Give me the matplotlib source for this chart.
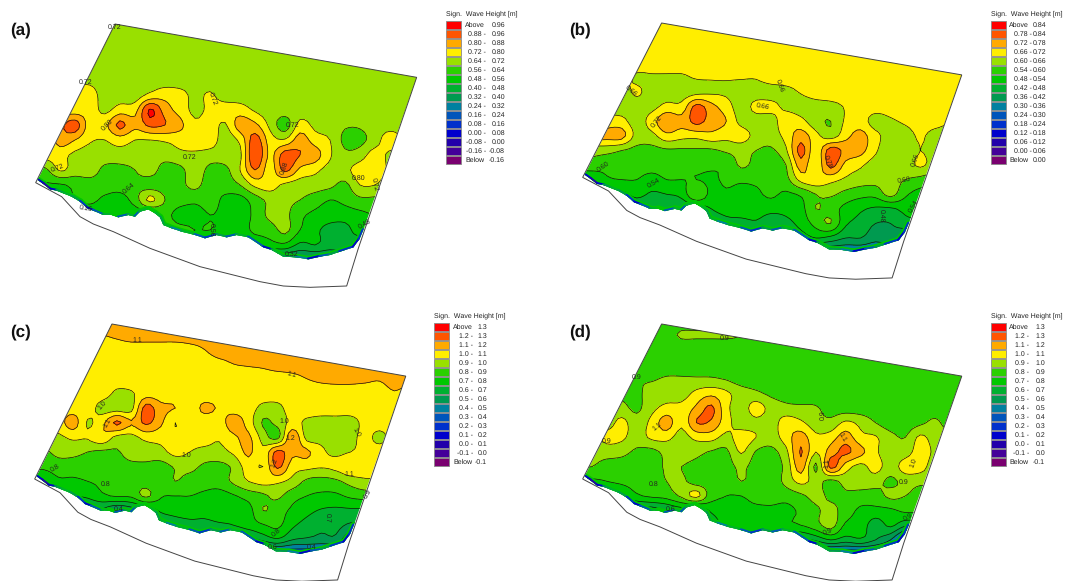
import numpy as np
import matplotlib
matplotlib.use("Agg")
import matplotlib.pyplot as plt
from matplotlib.patches import Polygon, Rectangle
from matplotlib.collections import LineCollection

plt.rcParams['font.family'] = ['Liberation Sans', 'DejaVu Sans']
plt.rcParams['text.hinting'] = 'no_hinting'
plt.rcParams['text.hinting_factor'] = 1

R68 = [.68]*27
wave_a = [R68, R68, R68, R68,
 [.68,.68,.68,.70,.70,.68,.68,.68,.68, .68,.68,.68,.68,.68,.68,.68,.68,.68, .68,.68,.68,.68,.68,.68,.68,.68,.68],
 [.76,.76,.76,.76,.76,.68,.68,.68,.74, .77,.75,.70,.73,.68,.68,.68,.68,.68, .68,.68,.68,.68,.68,.68,.68,.68,.68],
 [.76,.76,.76,.76,.76,.70,.76,.77,.97, .84,.77,.70,.74,.76,.76,.71,.68,.68, .68,.68,.68,.68,.68,.68,.68,.68,.68],
 [.86,.86,.86,.92,.76,.78,.90,.82,.90, .88,.82,.74,.76,.71,.84,.82,.70,.60, .75,.70,.68,.65,.65,.68,.68,.68,.68],
 [.70,.70,.84,.80,.73,.72,.76,.72,.72, .73,.75,.78,.77,.68,.74,.92,.76,.73, .84,.76,.72,.62,.62,.68,.77,.70,.68],
 [.75,.75,.75,.70,.68,.68,.68,.68,.68, .68,.70,.70,.68,.68,.70,.96,.78,.92, .88,.84,.73,.66,.68,.76,.70,.68,.68],
 [.62,.62,.73,.68,.68,.62,.62,.64,.68, .60,.62,.68,.62,.62,.72,.88,.76,.90, .78,.74,.69,.70,.76,.78,.70,.68,.68],
 [.55,.55,.55,.58,.60,.60,.60,.62,.60, .60,.62,.66,.60,.60,.64,.74,.76,.70, .68,.68,.66,.62,.72,.72,.66,.66,.66],
 [.52,.52,.52,.56,.58,.54,.52,.60,.74, .64,.60,.58,.60,.54,.53,.60,.66,.66, .64,.60,.56,.58,.62,.62,.62,.62,.62],
 [.50,.50,.50,.50,.50,.50,.50,.50,.50, .58,.52,.52,.56,.54,.52,.58,.66,.66, .58,.54,.52,.52,.54,.56,.56,.56,.56],
 [.50,.50,.50,.50,.50,.50,.50,.50,.50, .58,.58,.56,.56,.54,.52,.58,.60,.66, .56,.50,.45,.45,.52,.50,.50,.50,.50],
 [.50,.50,.50,.50,.50,.50,.50,.50,.50, .50,.50,.50,.50,.50,.50,.48,.52,.54, .46,.48,.44,.46,.40,.40,.40,.40,.40],
 [.30]*27]

R69 = [.69]*27
wave_b = [R69, R69, R69, R69,
 [.69,.69,.69,.69,.65,.65,.65,.65,.665, .665,.665,.665,.665,.69,.69,.69,.69,.69, .69,.69,.69,.69,.69,.69,.69,.69,.69],
 [.63,.63,.63,.63,.67,.63,.63,.63,.64, .65,.65,.63,.63,.63,.64,.665,.69,.69, .69,.69,.69,.69,.69,.69,.69,.69,.69],
 [.63,.63,.63,.63,.63,.64,.68,.68,.80, .74,.69,.63,.68,.68,.645,.63,.63,.64, .665,.69,.69,.69,.69,.69,.69,.69,.69],
 [.62,.62,.68,.68,.63,.69,.77,.74,.80, .75,.72,.64,.63,.63,.70,.68,.62,.60, .67,.69,.63,.65,.67,.69,.69,.66,.66],
 [.74,.74,.74,.74,.64,.64,.70,.68,.68, .70,.68,.69,.64,.63,.68,.75,.68,.63, .70,.74,.68,.63,.63,.67,.63,.63,.63],
 [.62,.62,.62,.60,.58,.58,.59,.59,.59, .59,.61,.62,.60,.59,.65,.80,.68,.81, .76,.74,.67,.61,.61,.66,.63,.63,.63],
 [.58,.58,.56,.56,.56,.56,.56,.56,.56, .55,.55,.61,.58,.56,.60,.75,.67,.80, .70,.67,.63,.63,.63,.67,.63,.63,.63],
 [.48,.48,.53,.54,.54,.52,.54,.54,.54, .53,.55,.55,.55,.55,.58,.68,.70,.68, .65,.63,.62,.62,.60,.58,.56,.56,.56],
 [.46,.46,.46,.46,.50,.47,.48,.50,.60, .52,.53,.52,.53,.55,.53,.55,.60,.61, .58,.56,.56,.62,.55,.52,.52,.52,.52],
 [.42,.42,.42,.42,.42,.42,.42,.43,.44, .48,.50,.51,.51,.50,.50,.52,.60,.57, .52,.49,.47,.47,.50,.52,.52,.52,.52],
 [.44,.44,.44,.44,.44,.44,.44,.44,.44, .44,.46,.46,.47,.44,.46,.50,.56,.60, .49,.46,.42,.42,.45,.46,.46,.46,.46],
 [.42,.42,.42,.42,.42,.42,.42,.42,.42, .42,.42,.42,.42,.42,.42,.44,.48,.46, .42,.42,.38,.40,.36,.36,.36,.36,.36],
 [.30]*27]

wave_c = [[1.15]*27,
 [1.09,1.09,1.09,1.09,1.09,1.10,1.12,1.15,1.15, 1.15,1.15,1.15,1.15,1.15,1.15,1.15,1.15,1.15, 1.15,1.15,1.15,1.15,1.15,1.15,1.15,1.15,1.15],
 [1.05,1.05,1.05,1.05,1.05,1.05,1.05,1.05,1.05, 1.05,1.05,1.07,1.10,1.15,1.15,1.15,1.15,1.15, 1.15,1.15,1.15,1.15,1.15,1.15,1.15,1.15,1.15],
 [1.05,1.05,1.05,1.05,1.05,1.05,1.05,1.05,1.05, 1.05,1.05,1.05,1.05,1.07,1.10,1.11,1.12,1.15, 1.15,1.15,1.15,1.15,1.15,1.15,1.15,1.15,1.15],
 [1.05,1.05,1.05,1.05,1.05,1.05,1.05,1.05,1.05, 1.05,1.05,1.05,1.05,1.05,1.05,1.05,1.05,1.05, 1.07,1.10,1.12,1.13,1.13,1.12,1.11,1.15,1.15],
 [1.05,1.05,1.05,1.05,1.05,1.05,.98,.99,1.05, 1.05,1.05,1.05,1.05,1.05,1.05,1.05,1.05,1.05, 1.05,1.05,1.05,1.05,1.05,1.05,1.05,1.09,1.05],
 [1.05,1.05,1.05,1.05,1.05,.96,.95,.97,1.24, 1.13,1.10,1.05,1.12,1.09,1.06,1.05,.97,.97, 1.05,1.05,1.05,1.05,1.05,1.05,1.05,1.05,1.05],
 [1.05,1.05,1.05,1.15,.99,1.07,1.22,1.11,1.22, 1.12,1.0,1.05,1.05,1.05,1.15,1.06,.89,.93, 1.03,.98,.96,.96,.96,1.03,1.05,1.05,1.05],
 [.98,.98,.98,1.02,1.01,1.08,.97,.97,1.03, 1.03,1.03,1.03,1.04,1.01,1.08,1.12,.96,.87, 1.18,.97,.97,.96,.97,1.03,.97,1.05,1.05],
 [.88,.88,.93,.93,.90,.88,.89,.94,.95, .97,1.03,1.0,.97,.97,1.02,1.12,1.02,1.23, 1.13,1.12,1.02,.98,1.0,1.03,1.05,1.05,1.05],
 [.82,.82,.85,.85,.85,.86,.87,.88,.88, .86,.91,.93,.88,.87,.92,1.05,1.0,1.22, 1.05,1.03,1.01,1.03,1.09,1.05,1.05,1.05,1.05],
 [.72,.72,.78,.78,.80,.82,.84,.88,.85, .84,.90,.86,.84,.85,.92,1.0,1.03,1.02, .97,.88,.86,.88,.94,.98,.98,.98,.98],
 [.70,.70,.70,.70,.72,.78,.81,.82,.92, .81,.80,.80,.78,.76,.79,.84,.88,.92, .84,.80,.78,.78,.82,.84,.84,.84,.84],
 [.58,.58,.58,.58,.58,.58,.50,.55,.60, .72,.75,.75,.74,.76,.74,.76,.90,.85, .78,.73,.69,.68,.68,.68,.68,.68,.68],
 [.55,.55,.55,.55,.55,.55,.55,.55,.55, .55,.62,.66,.66,.68,.70,.74,.79,.82, .72,.66,.62,.63,.58,.58,.58,.58,.58],
 [.55,.55,.55,.55,.55,.55,.55,.55,.55, .55,.55,.55,.55,.55,.55,.55,.62,.68, .60,.58,.56,.56,.40,.40,.40,.40,.40],
 [.30]*27]

R85 = [.85]*27
wave_d = [R85,
 [.85,.85,.85,.85,.85,.85,.87,.91,.91, .91,.91,.90,.87,.85,.85,.85,.85,.85, .85,.85,.85,.85,.85,.85,.85,.85,.85],
 R85, R85,
 [.85,.85,.85,.85,.89,.89,.91,.91,.91, .91,.89,.85,.85,.85,.85,.85,.85,.85, .85,.85,.85,.85,.85,.85,.85,.85,.85],
 [.88,.88,.88,.88,.88,.94,.95,.95,1.03, 1.07,1.02,.95,.92,.88,.86,.85,.85,.85, .85,.85,.85,.85,.85,.85,.85,.85,.85],
 [.93,.93,.93,.93,.88,.97,1.03,1.03,1.12, 1.22,1.03,.95,1.05,.96,.93,.92,.91,.86, .85,.85,.85,.85,.85,.85,.85,.85,.85],
 [.95,.95,.95,1.03,.94,1.03,1.15,1.02,1.20, 1.18,1.04,.95,.97,.95,1.05,1.02,.94,.93, 1.02,.97,.90,.85,.85,.88,.92,.85,.85],
 [.95,.95,1.03,1.02,.95,1.02,1.03,.96,1.03, 1.04,.97,1.05,1.0,.95,1.05,1.15,1.02,1.05, 1.15,1.03,1.01,.93,.90,1.02,.95,.95,.95],
 [.92,.92,.94,.93,.88,.87,.93,.95,.93, .89,.88,1.01,.89,.87,.97,1.21,1.0,1.15, 1.22,1.13,1.02,.93,.95,1.05,.98,.98,.98],
 [.90,.90,.86,.85,.84,.86,.91,.90,.87, .85,.86,.92,.86,.85,.93,1.15,.88,1.23, 1.05,.97,1.04,.95,1.05,1.05,.93,.93,.93],
 [.78,.78,.80,.82,.84,.85,.90,.92,.85, .84,.84,.90,.86,.84,.93,1.03,.95,.87, .94,.95,.94,.88,.93,.92,.92,.92,.92],
 [.70,.70,.70,.70,.78,.82,.84,.92,1.03, .84,.80,.80,.83,.84,.84,.88,.93,.88, .88,.86,.86,.92,.90,.87,.87,.87,.87],
 [.55,.55,.55,.55,.55,.55,.60,.65,.60, .72,.78,.78,.78,.78,.77,.82,.88,.93, .85,.78,.77,.78,.82,.82,.82,.82,.82],
 [.60,.60,.60,.60,.60,.60,.60,.60,.60, .60,.75,.76,.78,.78,.78,.80,.86,.94, .78,.76,.64,.72,.62,.62,.62,.62,.62],
 [.55,.55,.55,.55,.55,.55,.55,.55,.55, .55,.55,.55,.55,.55,.55,.55,.62,.70, .65,.68,.60,.50,.30,.30,.30,.30,.30],
 [.30]*27]

levels_a = [-.16,-.08,0,.08,.16,.24,.32,.40,.48,.56,.64,.72,.80,.88,.96]
levels_b = [0,.06,.12,.18,.24,.30,.36,.42,.48,.54,.60,.66,.72,.78,.84]
levels_c = [-.1,0,.1,.2,.3,.4,.5,.6,.7,.8,.9,1.0,1.1,1.2,1.3]

palette = ['#7a0070','#440099','#2200aa','#0000cc','#0030cc','#0055bb','#0080a0','#009a50',
           '#00b030','#00c800','#2bd000','#99e000','#ffee00','#ffaa00','#ff5500','#ff0000']

# geometry in panel-(a) pixels x3
coast = [(113,540),(130,552),(150,568),(170,572),(190,580),(215,590),(240,605),(262,625),(280,632),(310,645),
         (335,645),(355,652),(385,645),(405,650),(420,635),(445,628),(465,640),(480,652),(490,675),(515,685),
         (545,695),(585,705),(615,715),(650,705),(680,712),(710,705),(745,712),(790,742),(815,750),(850,770),
         (890,772),(925,778),(960,770),(990,765),(1020,755),(1060,742),(1078,718),(1090,690)]
shore_band = [3,2,3,7,8,7,4,3,5,8,9,5,8,5,8,9,8,7,8,6,8,5,4,7,5,8,5,3,8,7,6,3,5,7,4,3,4,6]
outline = [(107,548),(185,590),(240,650),(280,672),(340,695),(450,745),(600,800),(780,845),(850,858),
           (930,862),(1040,858),(1075,745),(1250,232),(345,72)]

panels = [
 dict(name='(a)', z=wave_a, lev=levels_a, fmt='{:.2f}', x0=36, sx=1.0, y0=24, sy=1.0,
      lx=10, ly=30, sw=446, tx=446, ty=14, rowy=25, abovex=465, xm=486, xr=505,
      labels=[('0.72',115,27,0),('0.72',86,82,0),('0.80',107,125,45),('0.72',213,99,-70),('0.72',293,125,0),
              ('0.72',190,157,0),('0.72',57,168,20),('0.64',129,188,40),('0.16',86,208,-10),('0.80',359,178,0),
              ('0.72',375,184,-80),('0.88',284,168,70),('0.56',212,230,-90),('0.32',292,254,0),('0.48',365,224,30)]),
 dict(name='(b)', z=wave_b, lev=levels_b, fmt='{:.2f}', x0=583, sx=.995, y0=23, sy=.973,
      lx=569, ly=30, sw=991, tx=991, ty=14, rowy=25, abovex=1009, xm=1032, xr=1046,
      labels=[('0.66',631,91,-40),('0.66',780,86,-70),('0.66',763,106,-10),('0.72',657,122,50),('0.60',603,167,35),
              ('0.54',654,183,30),('0.78',828,162,-70),('0.66',915,160,70),('0.60',904,180,10),('0.54',913,206,60),
              ('0.48',882,216,-90)]),
 dict(name='(c)', z=wave_c, lev=levels_c, fmt='{:.1f}', x0=35, sx=.974, y0=324, sy=.977,
      lx=10, ly=332, sw=434, tx=434, ty=316, rowy=327, abovex=453, xm=473, xr=487,
      labels=[('1.1',137,340,0),('1.1',292,375,-15),('1.0',102,405,50),('1.1',107,423,60),('1.0',284,421,0),
              ('1.2',290,438,0),('1.0',186,455,0),('1.0',357,432,-60),('1.2',274,463,70),('0.8',55,468,30),
              ('1.1',349,474,0),('0.8',106,484,0),('0.4',119,509,0),('0.7',328,518,-90),('0.8',276,532,40),
              ('0.6',273,547,0),('0.4',312,547,0),('0.9',368,494,60)]),
 dict(name='(d)', z=wave_d, lev=levels_c, fmt='{:.1f}', x0=583, sx=.995, y0=324, sy=.977,
      lx=569, ly=332, sw=991, tx=991, ty=316, rowy=327, abovex=1009, xm=1029, xr=1045,
      labels=[('0.9',725,338,0),('0.9',637,377,0),('0.9',607,441,0),('1.1',657,426,40),('1.1',842,437,-60),
              ('1.1',827,463,90),('1.0',913,463,70),('0.9',823,415,90),('0.9',904,482,0),('0.8',654,484,0),
              ('0.6',671,509,0),('0.9',828,532,20),('0.9',908,517,30)]),
]


def refine(a, f=4):
    """Smooth drawing surface through the read grid values (Catmull-Rom, per axis)."""
    def along(m):
        n = m.shape[0]
        pad = np.vstack([m[:1], m, m[-1:]])
        rows = []
        for i in range(n-1):
            for t in np.arange(f)/f:
                w = [-.5*t**3+t**2-.5*t, 1.5*t**3-2.5*t**2+1, -1.5*t**3+2*t**2+.5*t, .5*t**3-.5*t**2]
                rows.append(sum(w[k]*pad[i+k] for k in range(4)))
        rows.append(m[-1])
        return np.array(rows)
    return along(along(a).T).T


fig = plt.figure(figsize=(10.69, 5.81), dpi=100)
ax = fig.add_axes([0, 0, 1, 1])
ax.set_xlim(0, 1069)
ax.set_ylim(581, 0)
ax.axis('off')

gx = np.linspace(30, 420, 105)
gy = np.linspace(20, 260, 65)
GX, GY = np.meshgrid(gx, gy)
FS = 5.2

for p in panels:
    def tf(x, y):
        return p['x0'] + p['sx']*(np.asarray(x, float) - 36), p['y0'] + p['sy']*(np.asarray(y, float) - 24)
    X, Y = tf(GX, GY)
    Z = refine(np.array(p['z'], dtype=float))

    cx = np.array([c[0] for c in coast])/3
    cy = np.array([c[1] for c in coast])/3
    dom_x = np.r_[345/3, 1250/3, cx[::-1]]
    dom_y = np.r_[72/3, 232/3, cy[::-1]]
    patch = Polygon(np.c_[tf(dom_x, dom_y)], closed=True, facecolor='none', edgecolor='none',
                    transform=ax.transData)
    ax.add_patch(patch)

    cf = ax.contourf(X, Y, Z, levels=p['lev'], colors=palette[1:-1], extend='both')
    cf.cmap.set_under(palette[0])
    cf.cmap.set_over(palette[-1])
    cf.changed()
    cf.set_clip_path(patch)
    cl = ax.contour(X, Y, Z, levels=p['lev'], colors='#101010', linewidths=.5)
    cl.set_clip_path(patch)

    tx_, ty_ = tf(cx, cy)
    pts = np.c_[tx_, ty_]
    segs = np.stack([pts[:-1], pts[1:]], axis=1)
    wide = LineCollection(segs, colors=[palette[9]]*len(segs), linewidths=5, capstyle='round')
    ax.add_collection(wide)
    wide.set_clip_path(patch)
    thin = LineCollection(segs, colors=[palette[b] for b in shore_band[:-1]], linewidths=2.6, capstyle='round')
    ax.add_collection(thin)
    thin.set_clip_path(patch)

    ox = np.array([o[0] for o in outline])/3
    oy = np.array([o[1] for o in outline])/3
    ox, oy = tf(ox, oy)
    ax.add_patch(Polygon(np.c_[ox, oy], closed=True, fill=False, edgecolor='#444444', linewidth=.7))

    for s, x, y, r in p['labels']:
        ax.text(x, y, s, fontsize=FS, color='#222222', rotation=r, ha='center', va='center',
                rotation_mode='anchor')

    ax.text(p['lx'], p['ly'], p['name'], fontsize=12.5, fontweight='bold', color='#111111', ha='left', va='center')

    ax.text(p['tx'], p['ty'], 'Sign.  Wave Height [m]', fontsize=5.3, color='#222222', ha='left', va='center')
    lev = p['lev']
    n = len(palette)
    for k in range(n):
        yc = p['rowy'] + 9*k
        col = palette[n-1-k]
        ax.add_patch(Rectangle((p['sw'], yc-4), 15, 8, facecolor=col, edgecolor='#888888', linewidth=.6))
        if k == 0:
            ax.text(p['abovex'], yc, 'Above', fontsize=FS, color='#222222', ha='left', va='center')
            ax.text(p['xr'], yc, p['fmt'].format(lev[-1]), fontsize=FS, color='#222222', ha='right', va='center')
        elif k == n-1:
            ax.text(p['abovex'], yc, 'Below', fontsize=FS, color='#222222', ha='left', va='center')
            ax.text(p['xr'], yc, p['fmt'].format(lev[0]), fontsize=FS, color='#222222', ha='right', va='center')
        else:
            lo, hi = lev[n-2-k], lev[n-1-k]
            ax.text(p['xm'], yc, p['fmt'].format(lo+0.0) + ' -', fontsize=FS, color='#222222', ha='right', va='center')
            ax.text(p['xr'], yc, p['fmt'].format(hi+0.0), fontsize=FS, color='#222222', ha='right', va='center')

fig.savefig('out.png', dpi=100)
